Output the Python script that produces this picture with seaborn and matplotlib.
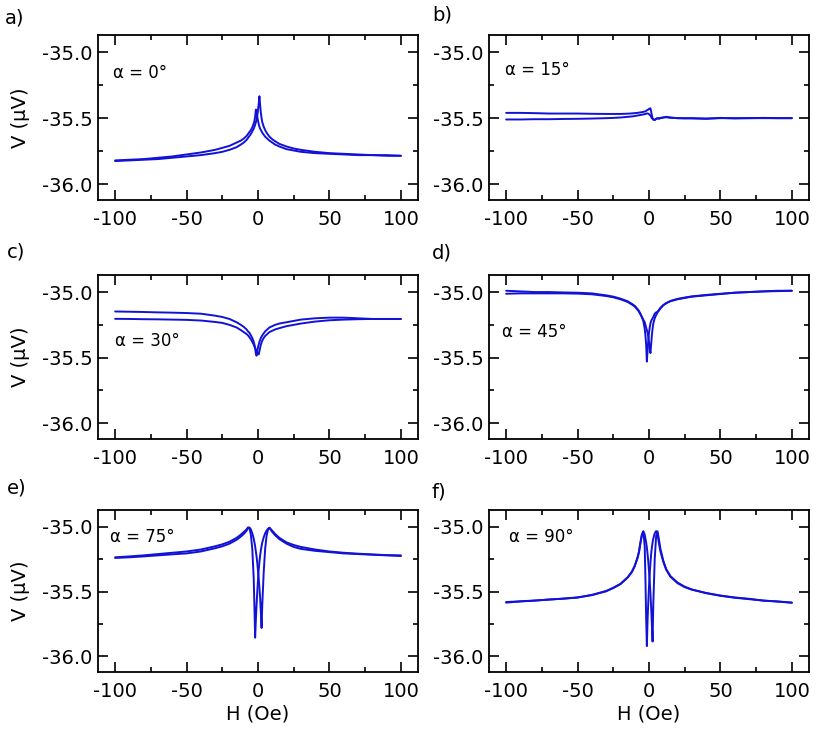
import numpy as np
import pandas as pd
import matplotlib
matplotlib.use("Agg")
import matplotlib.pyplot as plt
import seaborn as sns
from matplotlib.ticker import MultipleLocator, FormatStrFormatter

# shared field grid (Oe)
H = [-100, -90, -80, -70, -60, -50, -40, -30, -25, -20, -15, -12, -10, -8, -7, -6,
     -5, -4, -3, -2.5, -2, -1.5, -1, -0.5, 0, 0.5, 1, 1.5, 2, 2.5, 3, 4, 5,
     6, 7, 8, 10, 12, 15, 20, 25, 30, 40, 50, 60, 70, 80, 90, 100]

panel_tags = ["a)", "b)", "c)", "d)", "e)", "f)"]
angles = ["0", "15", "30", "45", "75", "90"]

# V (uV), two field sweeps per panel
va_1 = [-35.82, -35.815, -35.81, -35.80, -35.79, -35.775, -35.76, -35.74, -35.725, -35.71, -35.685, -35.67, -35.655, -35.635, -35.62, -35.605,
        -35.59, -35.57, -35.54, -35.52, -35.49, -35.435, -35.46, -35.49, -35.52, -35.545, -35.565, -35.58, -35.59, -35.60, -35.61, -35.625, -35.64,
        -35.65, -35.66, -35.67, -35.685, -35.70, -35.715, -35.735, -35.745, -35.755, -35.765, -35.77, -35.775, -35.78, -35.78, -35.785, -35.785]
va_2 = [-35.825, -35.82, -35.815, -35.81, -35.80, -35.79, -35.78, -35.765, -35.755, -35.74, -35.72, -35.70, -35.685, -35.665, -35.65, -35.635,
        -35.62, -35.60, -35.58, -35.565, -35.55, -35.53, -35.51, -35.48, -35.44, -35.39, -35.334, -35.40, -35.46, -35.50, -35.53, -35.565, -35.59,
        -35.61, -35.625, -35.64, -35.66, -35.675, -35.695, -35.715, -35.73, -35.74, -35.755, -35.765, -35.77, -35.775, -35.78, -35.78, -35.785]

vb_1 = [-35.46, -35.46, -35.462, -35.465, -35.465, -35.465, -35.467, -35.468, -35.468, -35.468, -35.466, -35.464, -35.462, -35.46, -35.458, -35.456,
        -35.455, -35.452, -35.45, -35.448, -35.445, -35.44, -35.438, -35.435, -35.43, -35.428, -35.425, -35.45, -35.48, -35.50, -35.51, -35.515, -35.505,
        -35.50, -35.505, -35.50, -35.495, -35.49, -35.495, -35.50, -35.502, -35.50, -35.505, -35.498, -35.502, -35.50, -35.498, -35.50, -35.50]
vb_2 = [-35.51, -35.51, -35.508, -35.508, -35.506, -35.505, -35.503, -35.50, -35.498, -35.495, -35.49, -35.487, -35.484, -35.48, -35.478, -35.476,
        -35.474, -35.472, -35.47, -35.468, -35.466, -35.465, -35.464, -35.466, -35.47, -35.475, -35.48, -35.49, -35.50, -35.505, -35.51, -35.512, -35.505,
        -35.502, -35.50, -35.498, -35.495, -35.493, -35.497, -35.50, -35.50, -35.502, -35.503, -35.50, -35.50, -35.50, -35.50, -35.50, -35.50]

vc_1 = [-35.148, -35.15, -35.152, -35.155, -35.157, -35.16, -35.165, -35.18, -35.19, -35.205, -35.23, -35.25, -35.265, -35.285, -35.30, -35.31,
        -35.33, -35.35, -35.38, -35.40, -35.43, -35.47, -35.485, -35.45, -35.42, -35.40, -35.38, -35.365, -35.35, -35.34, -35.33, -35.315, -35.30,
        -35.29, -35.28, -35.27, -35.26, -35.25, -35.24, -35.23, -35.22, -35.21, -35.20, -35.195, -35.195, -35.20, -35.205, -35.205, -35.205]
vc_2 = [-35.204, -35.205, -35.207, -35.208, -35.21, -35.212, -35.217, -35.228, -35.235, -35.25, -35.27, -35.29, -35.305, -35.32, -35.33, -35.345,
        -35.36, -35.38, -35.40, -35.415, -35.425, -35.44, -35.45, -35.46, -35.47, -35.475, -35.45, -35.425, -35.40, -35.385, -35.37, -35.35, -35.335,
        -35.325, -35.315, -35.305, -35.295, -35.285, -35.275, -35.26, -35.25, -35.24, -35.225, -35.215, -35.21, -35.207, -35.205, -35.205, -35.205]

vd_1 = [-34.99, -34.995, -35.0, -35.0, -35.003, -35.005, -35.01, -35.025, -35.035, -35.05, -35.07, -35.09, -35.105, -35.13, -35.145, -35.165,
        -35.19, -35.22, -35.28, -35.33, -35.40, -35.53, -35.45, -35.37, -35.31, -35.27, -35.24, -35.22, -35.21, -35.20, -35.19, -35.165, -35.155,
        -35.15, -35.135, -35.12, -35.10, -35.085, -35.068, -35.052, -35.042, -35.033, -35.022, -35.013, -35.005, -35.0, -34.995, -34.99, -34.99]
vd_2 = [-35.013, -35.01, -35.01, -35.01, -35.01, -35.012, -35.017, -35.03, -35.04, -35.055, -35.075, -35.095, -35.11, -35.135, -35.15, -35.17,
        -35.19, -35.21, -35.23, -35.25, -35.27, -35.29, -35.31, -35.34, -35.38, -35.43, -35.465, -35.40, -35.33, -35.28, -35.24, -35.20, -35.175,
        -35.155, -35.14, -35.125, -35.10, -35.085, -35.07, -35.055, -35.045, -35.035, -35.025, -35.015, -35.005, -35.0, -34.995, -34.993, -34.99]

ve_1 = [-35.235, -35.228, -35.22, -35.21, -35.20, -35.19, -35.175, -35.15, -35.135, -35.115, -35.085, -35.06, -35.04, -35.02, -35.004, -35.01,
        -35.06, -35.17, -35.40, -35.62, -35.855, -35.72, -35.60, -35.50, -35.41, -35.33, -35.27, -35.22, -35.18, -35.15, -35.12, -35.08, -35.05,
        -35.03, -35.015, -35.007, -35.03, -35.055, -35.085, -35.12, -35.14, -35.155, -35.175, -35.19, -35.20, -35.207, -35.213, -35.218, -35.22]
ve_2 = [-35.24, -35.235, -35.228, -35.22, -35.212, -35.205, -35.19, -35.165, -35.15, -35.13, -35.10, -35.075, -35.055, -35.03, -35.01, -35.005,
        -35.02, -35.05, -35.09, -35.12, -35.15, -35.19, -35.23, -35.28, -35.34, -35.40, -35.47, -35.55, -35.66, -35.78, -35.60, -35.35, -35.17,
        -35.07, -35.02, -35.007, -35.04, -35.065, -35.095, -35.13, -35.155, -35.17, -35.185, -35.195, -35.205, -35.21, -35.215, -35.22, -35.225]

vf_1 = [-35.58, -35.575, -35.57, -35.56, -35.555, -35.545, -35.525, -35.495, -35.47, -35.44, -35.39, -35.345, -35.30, -35.235, -35.19, -35.12,
        -35.06, -35.035, -35.15, -35.40, -35.70, -35.92, -35.72, -35.58, -35.46, -35.36, -35.28, -35.21, -35.16, -35.12, -35.09, -35.05, -35.033,
        -35.06, -35.13, -35.19, -35.27, -35.33, -35.385, -35.435, -35.465, -35.485, -35.51, -35.53, -35.545, -35.555, -35.57, -35.575, -35.585]
vf_2 = [-35.585, -35.575, -35.568, -35.562, -35.553, -35.545, -35.527, -35.497, -35.472, -35.442, -35.392, -35.35, -35.305, -35.24, -35.195, -35.125,
        -35.065, -35.035, -35.06, -35.09, -35.12, -35.16, -35.21, -35.27, -35.34, -35.42, -35.51, -35.62, -35.75, -35.885, -35.60, -35.25, -35.07,
        -35.035, -35.10, -35.17, -35.26, -35.325, -35.38, -35.43, -35.462, -35.483, -35.512, -35.532, -35.547, -35.558, -35.568, -35.577, -35.585]

sweeps = [(va_1, va_2), (vb_1, vb_2), (vc_1, vc_2), (vd_1, vd_2), (ve_1, ve_2), (vf_1, vf_2)]

LINE = "#1212d6"

sns.set_style("ticks")
plt.rcParams["font.family"] = ["DejaVu Sans"]
plt.rcParams["axes.unicode_minus"] = False
plt.rcParams["axes.linewidth"] = 1.3
plt.rcParams["axes.edgecolor"] = "black"
plt.rcParams["text.color"] = "black"
plt.rcParams["xtick.color"] = "black"
plt.rcParams["ytick.color"] = "black"
plt.rcParams["axes.labelcolor"] = "black"

fig = plt.figure(figsize=(8.31, 7.42), dpi=100)

W, Hpx = 831, 742
col_x = [98, 489]
row_y = [(35, 200), (275, 439), (510, 672)]
# text position (axes fraction) for the angle label
alpha_pos = [(0.047, 0.77), (0.05, 0.79), (0.053, 0.60), (0.04, 0.655), (0.0375, 0.835), (0.064, 0.835)]
tag_pos = [(5, 18), (432, 15), (7, 252), (432, 253), (7, 488), (432, 492)]

for i, (v1, v2) in enumerate(sweeps):
    r, c = divmod(i, 2)
    top, bot = row_y[r]
    ax = fig.add_axes([col_x[c] / W, 1 - bot / Hpx, 320 / W, (bot - top) / Hpx])

    df = pd.DataFrame({
        "H": H * 2,
        "V": v1 + v2,
        "sweep": ["up"] * len(H) + ["down"] * len(H),
    })
    sns.lineplot(data=df, x="H", y="V", units="sweep", estimator=None, sort=False,
                 color=LINE, lw=1.4, ax=ax, legend=False)

    ax.set_xlim(-112, 112)
    ax.set_ylim(-36.12, -34.87)
    ax.xaxis.set_major_locator(MultipleLocator(50))
    ax.xaxis.set_minor_locator(MultipleLocator(25))
    ax.yaxis.set_major_locator(MultipleLocator(0.5))
    ax.yaxis.set_minor_locator(MultipleLocator(0.25))
    ax.yaxis.set_major_formatter(FormatStrFormatter("%.1f"))
    ax.tick_params(which="both", direction="in", top=True, right=True, width=1.2,
                   labelsize=14, color="black", labelcolor="black")
    ax.tick_params(which="major", length=7.5)
    ax.tick_params(which="minor", length=3.8)
    ax.tick_params(axis="x", pad=7)
    ax.tick_params(axis="y", pad=4)
    ax.set_xlabel("")
    ax.set_ylabel("")

    ax.text(*alpha_pos[i], f"\u03b1 = {angles[i]}\u00b0", transform=ax.transAxes,
            fontsize=12, ha="left", va="center")
    tx, ty = tag_pos[i]
    fig.text(tx / W, 1 - ty / Hpx, panel_tags[i], fontsize=14, ha="left", va="center")

    if c == 0:
        fig.text(21 / W, 1 - (top + bot) / 2 / Hpx, "V (\u03bcV)", rotation=90,
                 fontsize=14, ha="center", va="center")
    if r == 2:
        fig.text((col_x[c] + 160) / W, 1 - 714 / Hpx, "H (Oe)", fontsize=14,
                 ha="center", va="center")

fig.savefig("out.png", dpi=100)
